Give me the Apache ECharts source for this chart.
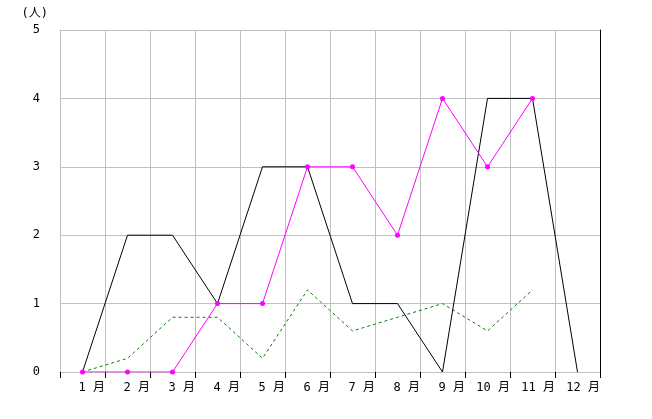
<!DOCTYPE html>
<html>
<head>
<meta charset="utf-8">
<script src="https://cdn.jsdelivr.net/npm/echarts@6/dist/echarts.min.js"></script>
<style>
html,body{margin:0;padding:0;background:#fff;}
#chart{width:652px;height:419px;}
</style>
</head>
<body>
<div id="chart"></div>
<script>
// 月ごとの人数
const months = ['1 月','2 月','3 月','4 月','5 月','6 月','7 月','8 月','9 月','10 月','11 月','12 月'];
const blackVals = [0, 2, 2, 1, 3, 3, 1, 1, 0, 4, 4, 0];
const pinkVals = [0, 0, 0, 1, 1, 3, 3, 2, 4, 3, 4];
const greenVals = [0, 0.2, 0.8, 0.8, 0.2, 1.2, 0.6, 0.8, 1.0, 0.6, 1.2];
const yTicks = [0, 1, 2, 3, 4, 5];

const font = '"DejaVu Sans Mono","Noto Sans CJK JP",monospace';
// 点は各月の区間の中央に置く
const toPts = arr => arr.map((v, i) => [i + 0.5, v]);

const chart = echarts.init(document.getElementById('chart'));
chart.setOption({
  animation: false,
  grid: { left: 60, right: 52, top: 30, bottom: 47 },
  xAxis: {
    type: 'value', min: 0, max: 12, interval: 1,
    axisLine: { show: true, lineStyle: { color: '#c0c0c0' } },
    axisTick: { show: true, length: 6, lineStyle: { color: '#000' } },
    splitLine: { show: true, lineStyle: { color: '#c0c0c0' } },
    axisLabel: {
      color: '#000', fontSize: 12, fontFamily: font, align: 'right', margin: 10,
      formatter: v => (v >= 1 ? months[v - 1] : '')
    }
  },
  yAxis: [{
    type: 'value', min: 0, max: 5, interval: 1,
    name: '(人)', nameLocation: 'end', nameGap: 10,
    nameTextStyle: { color: '#000', fontSize: 12, fontFamily: font, align: 'right', padding: [0, 12, 0, 0] },
    axisLine: { show: true, lineStyle: { color: '#c0c0c0' } },
    axisTick: { show: false },
    splitLine: { show: true, lineStyle: { color: '#c0c0c0' } },
    axisLabel: {
      color: '#000', fontSize: 12, fontFamily: font, margin: 20,
      formatter: v => (yTicks.includes(v) ? String(v) : '')
    }
  }, {
    type: 'value', min: 0, max: 5, interval: 1, position: 'right',
    axisLine: { show: true, lineStyle: { color: '#000', width: 1 } },
    axisTick: { show: false }, axisLabel: { show: false }, splitLine: { show: false }
  }],
  series: [{
    type: 'line', data: toPts(blackVals), symbol: 'none',
    lineStyle: { color: '#000', width: 1 }, z: 3
  }, {
    type: 'line', data: toPts(pinkVals), symbol: 'circle', symbolSize: 5,
    itemStyle: { color: '#ff00ff' },
    lineStyle: { color: '#ff00ff', width: 1 }, z: 4
  }, {
    type: 'line', data: toPts(greenVals), symbol: 'none',
    lineStyle: { color: '#008000', width: 1, type: [3, 3] }, z: 2
  }]
});
</script>
</body>
</html>
